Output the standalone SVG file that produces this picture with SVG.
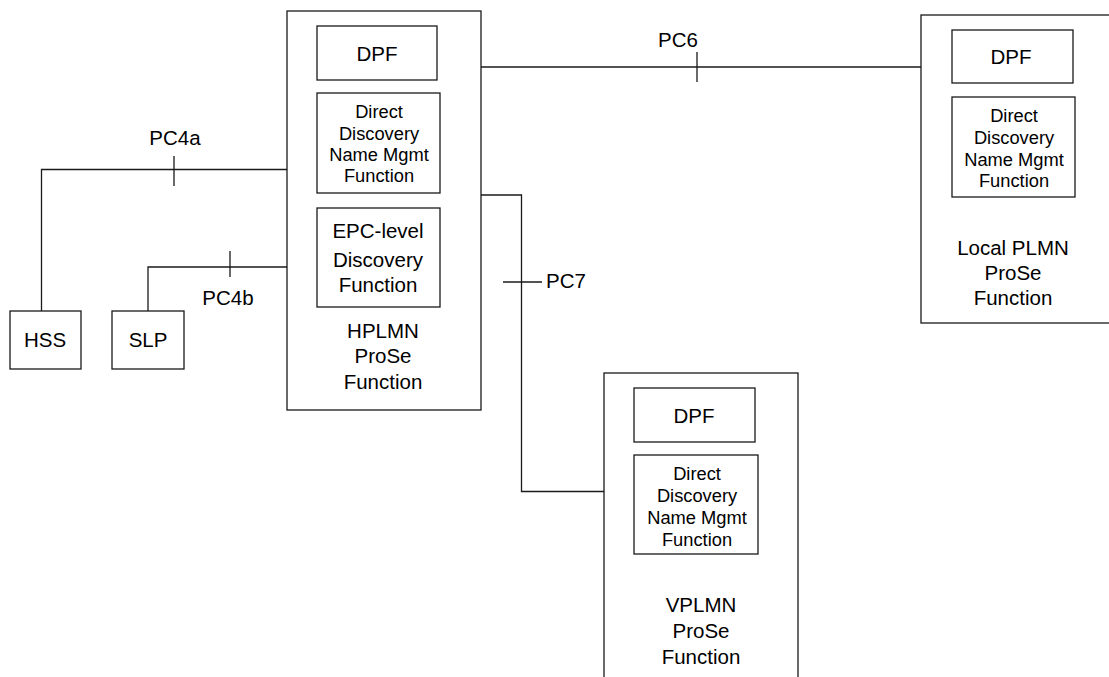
<svg xmlns="http://www.w3.org/2000/svg" width="1109" height="677" viewBox="0 0 1109 677">
<style>
.box{fill:#fff;stroke:#1a1a1a;stroke-width:1.3}
.ln{fill:none;stroke:#1a1a1a;stroke-width:1.3}
text{font-family:"Liberation Sans",Arial,sans-serif;fill:#000;text-anchor:middle}
.t{font-size:20.5px}
.s{font-size:18.3px}
</style>
<rect width="1109" height="677" fill="#fff"/>
<g id="connectors">
<polyline class="ln" points="287,169.5 41.5,169.5 41.5,311"/>
<line class="ln" x1="174" y1="156" x2="174" y2="186"/>
<text class="t" x="175" y="145">PC4a</text>
<polyline class="ln" points="287,267 148,267 148,311"/>
<line class="ln" x1="230" y1="251" x2="230" y2="277"/>
<text class="t" x="228" y="305">PC4b</text>
<line class="ln" x1="481" y1="67" x2="921" y2="67"/>
<line class="ln" x1="697" y1="52" x2="697" y2="82"/>
<text class="t" x="678" y="47">PC6</text>
<polyline class="ln" points="481,195 521.5,195 521.5,491.5 604,491.5"/>
<line class="ln" x1="503" y1="282" x2="542" y2="282"/>
<text class="t" x="546" y="288" style="text-anchor:start">PC7</text>
</g>
<g id="hss">
<rect class="box" x="10" y="311" width="71" height="58"/>
<text class="t" x="45" y="347">HSS</text>
</g>
<g id="slp">
<rect class="box" x="112" y="311" width="72" height="58"/>
<text class="t" x="148" y="347">SLP</text>
</g>
<g id="hplmn">
<rect class="box" x="287" y="11" width="194" height="399"/>
<rect class="box" x="317" y="26" width="120" height="54"/>
<text class="t" x="377" y="61">DPF</text>
<rect class="box" x="317" y="93" width="123" height="100"/>
<text class="s" x="379" y="117.5">Direct</text>
<text class="s" x="379" y="139.5">Discovery</text>
<text class="s" x="379" y="160.5">Name Mgmt</text>
<text class="s" x="379" y="182">Function</text>
<rect class="box" x="317" y="208" width="123" height="99"/>
<text class="t" x="378" y="237.5">EPC-level</text>
<text class="t" x="378" y="266.5">Discovery</text>
<text class="t" x="378" y="291.5">Function</text>
<text class="t" x="383" y="337.5">HPLMN</text>
<text class="t" x="383" y="362.5">ProSe</text>
<text class="t" x="383" y="389">Function</text>
</g>
<g id="local">
<rect class="box" x="921" y="15" width="200" height="308"/>
<rect class="box" x="952" y="30" width="121" height="53"/>
<text class="t" x="1011" y="64">DPF</text>
<rect class="box" x="952" y="97" width="123" height="100"/>
<text class="s" x="1014" y="121.5">Direct</text>
<text class="s" x="1014" y="144">Discovery</text>
<text class="s" x="1014" y="165.5">Name Mgmt</text>
<text class="s" x="1014" y="187">Function</text>
<text class="t" x="1013" y="255">Local PLMN</text>
<text class="t" x="1013" y="280">ProSe</text>
<text class="t" x="1013" y="305">Function</text>
</g>
<g id="vplmn">
<rect class="box" x="604" y="373" width="194" height="320"/>
<rect class="box" x="634" y="388" width="121" height="54"/>
<text class="t" x="694" y="423">DPF</text>
<rect class="box" x="634" y="455" width="124" height="99"/>
<text class="s" x="697" y="480">Direct</text>
<text class="s" x="697" y="502">Discovery</text>
<text class="s" x="697" y="524">Name Mgmt</text>
<text class="s" x="697" y="545.5">Function</text>
<text class="t" x="701" y="612">VPLMN</text>
<text class="t" x="701" y="638">ProSe</text>
<text class="t" x="701" y="664">Function</text>
</g>
</svg>
